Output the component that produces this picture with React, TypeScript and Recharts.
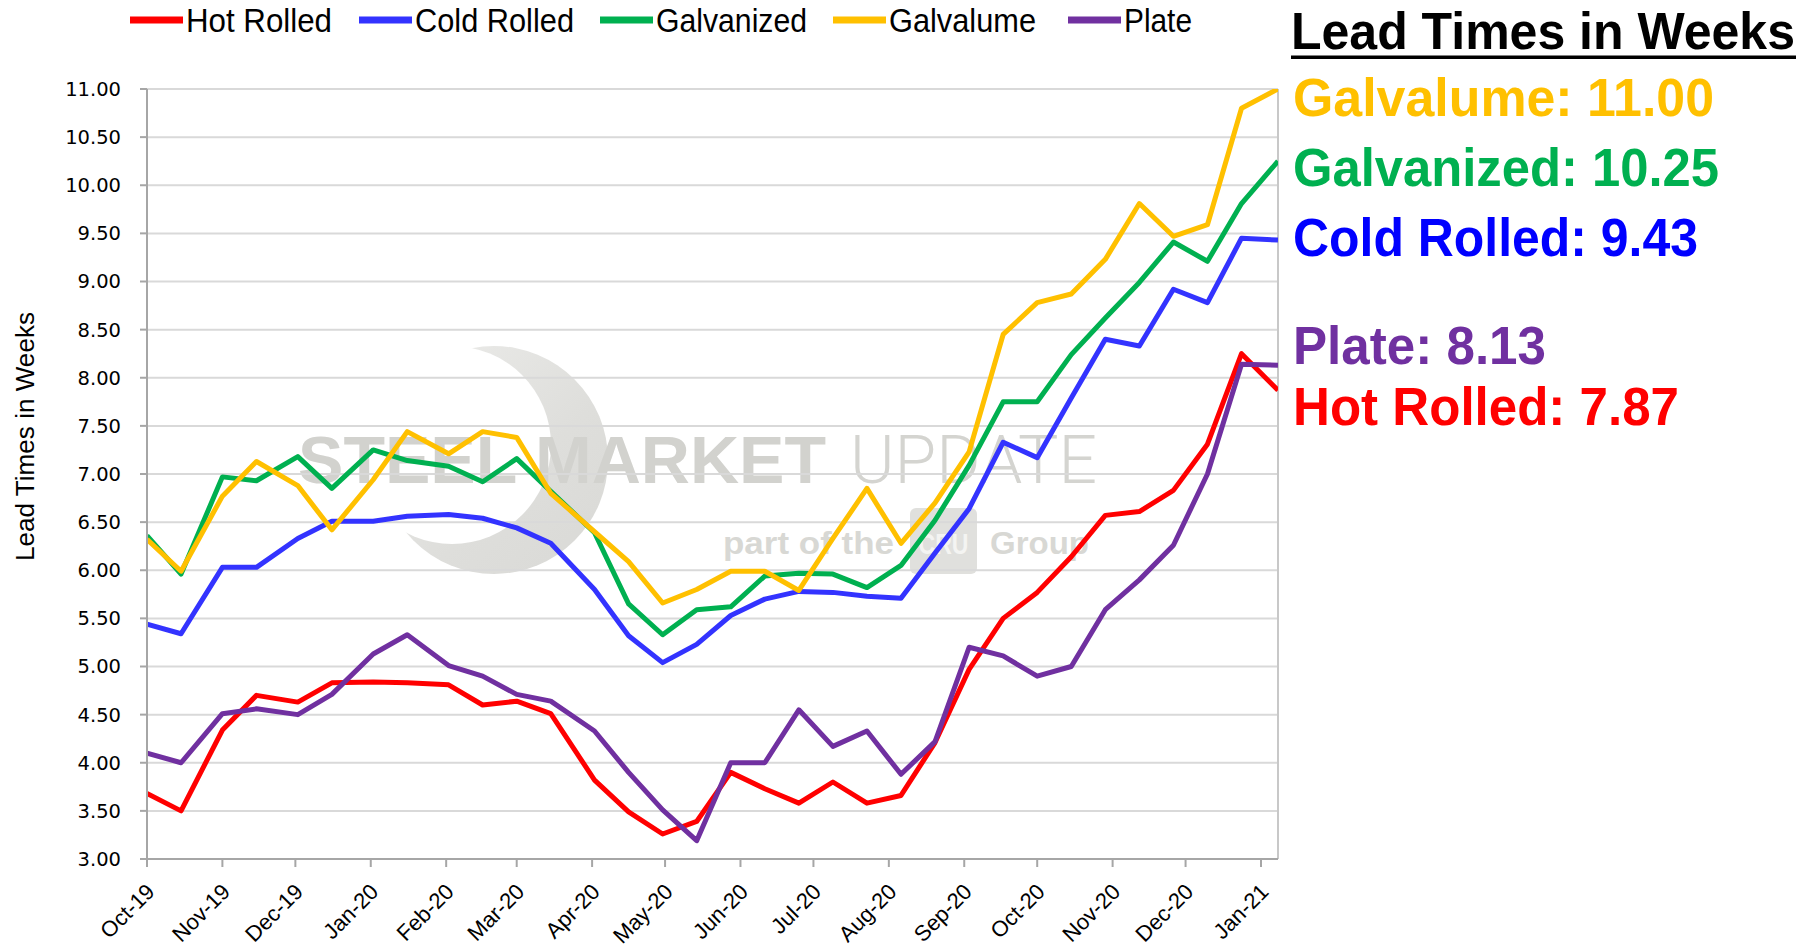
import React from 'react';
import { LineChart, Line, XAxis, YAxis, CartesianGrid, Legend, ReferenceLine } from 'recharts';

// ---- data ----
const surveyDates = [
  '2019-10-01', '2019-10-15', '2019-11-01', '2019-11-15', '2019-12-02', '2019-12-16',
  '2020-01-02', '2020-01-16', '2020-02-02', '2020-02-16', '2020-03-01', '2020-03-15',
  '2020-04-02', '2020-04-16', '2020-04-30', '2020-05-14', '2020-05-28', '2020-06-11',
  '2020-06-25', '2020-07-09', '2020-07-23', '2020-08-06', '2020-08-20', '2020-09-03',
  '2020-09-17', '2020-10-01', '2020-10-15', '2020-10-29', '2020-11-12', '2020-11-26',
  '2020-12-10', '2020-12-24', '2021-01-08',
];

const hotRolled = [
  3.68, 3.50, 4.34, 4.70, 4.63, 4.83, 4.84, 4.83, 4.81, 4.60, 4.64, 4.51,
  3.82, 3.49, 3.26, 3.39, 3.90, 3.73, 3.58, 3.80, 3.58, 3.66, 4.21, 4.97,
  5.50, 5.77, 6.14, 6.57, 6.61, 6.83, 7.31, 8.25, 7.87,
];
const coldRolled = [
  5.44, 5.34, 6.03, 6.03, 6.33, 6.51, 6.51, 6.56, 6.58, 6.54, 6.44, 6.28,
  5.80, 5.32, 5.04, 5.23, 5.53, 5.70, 5.78, 5.77, 5.73, 5.71, 6.18, 6.64,
  7.33, 7.17, 7.79, 8.40, 8.33, 8.92, 8.78, 9.45, 9.43,
];
const galvanized = [
  6.36, 5.96, 6.97, 6.93, 7.18, 6.85, 7.25, 7.14, 7.08, 6.92, 7.16, 6.82,
  6.39, 5.65, 5.33, 5.59, 5.62, 5.94, 5.97, 5.96, 5.82, 6.05, 6.52, 7.09,
  7.75, 7.75, 8.24, 8.62, 8.99, 9.41, 9.21, 9.81, 10.25,
];
const galvalume = [
  6.32, 5.99, 6.77, 7.13, 6.88, 6.42, 6.94, 7.44, 7.21, 7.44, 7.38, 6.80,
  6.40, 6.09, 5.66, 5.80, 5.99, 5.99, 5.79, 6.33, 6.85, 6.28, 6.70, 7.23,
  8.45, 8.78, 8.87, 9.23, 9.81, 9.47, 9.59, 10.80, 11.00,
];
const plate = [
  4.10, 4.00, 4.51, 4.56, 4.50, 4.71, 5.13, 5.33, 5.01, 4.90, 4.71, 4.64,
  4.33, 3.90, 3.51, 3.19, 4.00, 4.00, 4.55, 4.17, 4.33, 3.88, 4.22, 5.20,
  5.11, 4.90, 5.00, 5.59, 5.90, 6.26, 7.00, 8.14, 8.13,
];

const monthTickDates = [
  '2019-10-01', '2019-11-01', '2019-12-01', '2020-01-01', '2020-02-01', '2020-03-01',
  '2020-04-01', '2020-05-01', '2020-06-01', '2020-07-01', '2020-08-01', '2020-09-01',
  '2020-10-01', '2020-11-01', '2020-12-01', '2021-01-01',
];
const monthTickLabels = [
  'Oct-19', 'Nov-19', 'Dec-19', 'Jan-20', 'Feb-20', 'Mar-20', 'Apr-20', 'May-20',
  'Jun-20', 'Jul-20', 'Aug-20', 'Sep-20', 'Oct-20', 'Nov-20', 'Dec-20', 'Jan-21',
];
const yTicks = [3, 3.5, 4, 4.5, 5, 5.5, 6, 6.5, 7, 7.5, 8, 8.5, 9, 9.5, 10, 10.5, 11];

const seriesNames = ['Hot Rolled', 'Cold Rolled', 'Galvanized', 'Galvalume', 'Plate'];
const seriesKeys = ['hot', 'cold', 'galvanized', 'galvalume', 'plate'];
const seriesColors = ['#FF0000', '#3333FF', '#00B050', '#FFC000', '#7030A0'];
const seriesValues = [hotRolled, coldRolled, galvanized, galvalume, plate];

const chartTitle = 'Lead Times in Weeks';
const yAxisTitle = 'Lead Times in Weeks';

// ---- derived ----
const toTs = (s: string) => {
  const [y, m, d] = s.split('-').map(Number);
  return Date.UTC(y, m - 1, d);
};
const data = surveyDates.map((d, i) => {
  const row: Record<string, number> = { t: toTs(d) };
  seriesKeys.forEach((k, s) => { row[k] = seriesValues[s][i]; });
  return row;
});
const monthTickTs = monthTickDates.map(toTs);
const tStart = monthTickTs[0];
const tEnd = toTs(surveyDates[surveyDates.length - 1]);

// ---- layout constants ----
const W = 1808;
const H = 950;
const legendSwatchX = [130, 359, 600, 833, 1068];
const legendTextLen = [146, 159, 151, 147, 68];
const annotationOrder = [3, 2, 1, 4, 0];
const annotationColors = ['#FF0000', '#0000FF', '#00B050', '#FFC000', '#7030A0'];
const annotationBaseline = [116, 186, 256, 364, 425];
const annotationLen = [421, 426, 405, 253, 386];

const XTick = (props: any) => {
  const { x, y, payload } = props;
  const idx = monthTickTs.indexOf(payload.value);
  const label = idx >= 0 ? monthTickLabels[idx] : '';
  return (
    <g transform={`translate(${x + 9},${y + 24})`}>
      <text
        textAnchor="end"
        transform="rotate(-45)"
        fontSize={22}
        fontFamily="'Liberation Sans', Arial, sans-serif"
        fill="#000"
      >
        {label}
      </text>
    </g>
  );
};

const renderLegend = (props: any) => {
  const payload = [...(props.payload || [])].sort(
    (a: any, b: any) => seriesNames.indexOf(a.value) - seriesNames.indexOf(b.value)
  );
  return (
    <svg width={W} height={45} style={{ position: 'absolute', left: 0, top: 0, overflow: 'visible' }}>
      {payload.map((p: any) => {
        const i = seriesNames.indexOf(p.value);
        return (
          <g key={p.value}>
            <rect x={legendSwatchX[i]} y={16.5} width={53} height={7} fill={seriesColors[i]} />
            <text
              x={legendSwatchX[i] + 56}
              y={32}
              fontSize={34}
              fontFamily="'Liberation Sans', Arial, sans-serif"
              fill="#000"
              textLength={legendTextLen[i]}
              lengthAdjust="spacingAndGlyphs"
            >
              {p.value}
            </text>
          </g>
        );
      })}
    </svg>
  );
};

const Watermark = () => (
  <svg width={W} height={H} style={{ position: 'absolute', left: 0, top: 0 }}>
    <defs>
      <mask id="crescentMask">
        <rect x={0} y={0} width={W} height={H} fill="#fff" />
        <circle cx={452} cy={445} r={99} fill="#000" />
      </mask>
      <linearGradient id="crescentGrad" x1="0" y1="0" x2="1" y2="1">
        <stop offset="0" stopColor="#EDEDEB" />
        <stop offset="0.6" stopColor="#DEDEDB" />
        <stop offset="1" stopColor="#D9D9D6" />
      </linearGradient>
    </defs>
    <circle cx={494} cy={460} r={114} fill="url(#crescentGrad)" mask="url(#crescentMask)" />
    <text x={298} y={483} fontSize={66} fontWeight={700} fill="#D2D2CE"
      fontFamily="'Liberation Sans', Arial, sans-serif" textLength={528} lengthAdjust="spacingAndGlyphs">
      STEEL MARKET
    </text>
    <text x={850} y={483} fontSize={66} fontWeight={300} fill="#D4D4D0"
      fontFamily="Roboto, Lato, sans-serif" textLength={247} lengthAdjust="spacingAndGlyphs">
      UPDATE
    </text>
    <text x={723} y={554} fontSize={32} fontWeight={700} fill="#D8D8D4"
      fontFamily="'Liberation Sans', Arial, sans-serif" textLength={171} lengthAdjust="spacingAndGlyphs">
      part of the
    </text>
    <rect x={910} y={508} width={67} height={66} rx={6} fill="#E0E0DD" />
    <text x={943.5} y={554} fontSize={30} fontWeight={700} fill="#F4F4F2" textAnchor="middle"
      fontFamily="'Liberation Sans Narrow', 'Liberation Sans', sans-serif" textLength={50} lengthAdjust="spacingAndGlyphs">
      CRU
    </text>
    <text x={990} y={554} fontSize={32} fontWeight={700} fill="#D8D8D4"
      fontFamily="'Liberation Sans', Arial, sans-serif" textLength={99} lengthAdjust="spacingAndGlyphs">
      Group
    </text>
  </svg>
);

const Annotations = () => (
  <svg width={W} height={H} style={{ position: 'absolute', left: 0, top: 0, pointerEvents: 'none' }}>
    <text
      x={34}
      y={436.5}
      transform="rotate(-90, 34, 436.5)"
      textAnchor="middle"
      fontSize={26}
      fontFamily="'Liberation Sans', Arial, sans-serif"
      fill="#000"
      textLength={249}
      lengthAdjust="spacingAndGlyphs"
    >
      {yAxisTitle}
    </text>
    <text
      x={1291}
      y={49}
      fontSize={52}
      fontWeight={700}
      fontFamily="'Liberation Sans', Arial, sans-serif"
      fill="#000"
      textLength={504}
      lengthAdjust="spacingAndGlyphs"
    >
      {chartTitle}
    </text>
    <rect x={1291} y={55.5} width={505} height={3.5} fill="#000" />
    {annotationOrder.map((s, i) => {
      const vals = seriesValues[s];
      return (
        <text
          key={s}
          x={1293}
          y={annotationBaseline[i]}
          fontSize={53}
          fontWeight={700}
          fontFamily="'Liberation Sans', Arial, sans-serif"
          fill={annotationColors[s]}
          textLength={annotationLen[i]}
          lengthAdjust="spacingAndGlyphs"
        >
          {`${seriesNames[s]}: ${vals[vals.length - 1].toFixed(2)}`}
        </text>
      );
    })}
  </svg>
);

export default function App() {
  return (
    <div style={{ position: 'absolute', left: 0, top: 0, width: W, height: H, background: '#fff', overflow: 'hidden' }}>
      <Watermark />
      <div style={{ position: 'absolute', left: 0, top: 0 }}>
        <LineChart
          width={W}
          height={H}
          data={data}
          margin={{ top: 89, right: 530, bottom: 31, left: 67 }}
        >
          <CartesianGrid horizontal vertical={false} stroke="#D9D9D9" strokeWidth={2} />
          <XAxis
            type="number"
            dataKey="t"
            domain={[tStart, tEnd]}
            allowDataOverflow
            ticks={monthTickTs}
            interval={0}
            tick={<XTick />}
            tickSize={8}
            tickMargin={2}
            height={60}
            axisLine={{ stroke: '#A6A6A6', strokeWidth: 2 }}
            tickLine={{ stroke: '#A6A6A6', strokeWidth: 2 }}
          />
          <YAxis
            type="number"
            domain={[3, 11]}
            ticks={yTicks}
            interval={0}
            allowDataOverflow
            width={80}
            tickSize={7}
            tickMargin={19}
            tickFormatter={(v: number) => v.toFixed(2)}
            tick={{ fill: '#000', fontSize: 19.5, fontFamily: "'DejaVu Sans', Verdana, sans-serif" }}
            axisLine={{ stroke: '#A6A6A6', strokeWidth: 2 }}
            tickLine={{ stroke: '#A6A6A6', strokeWidth: 2 }}
          />
          <ReferenceLine x={tEnd} stroke="#C8C8C8" strokeWidth={2} />
          <Legend
            verticalAlign="top"
            align="left"
            wrapperStyle={{ left: 0, top: 0, width: W, height: 0 }}
            content={renderLegend}
          />
          {seriesKeys.map((k, i) => (
            <Line
              key={k}
              type="linear"
              dataKey={k}
              name={seriesNames[i]}
              stroke={seriesColors[i]}
              strokeWidth={5}
              strokeLinejoin="round"
              dot={false}
              activeDot={false}
              isAnimationActive={false}
            />
          ))}
        </LineChart>
      </div>
      <Annotations />
    </div>
  );
}
